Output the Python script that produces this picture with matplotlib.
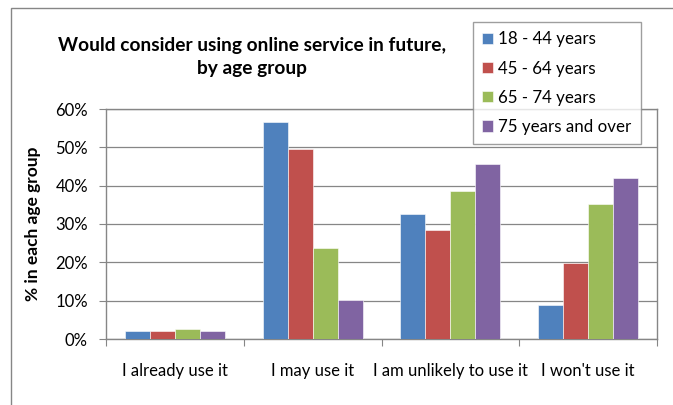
import matplotlib
matplotlib.use("Agg")
import matplotlib.pyplot as plt
from matplotlib.patches import Rectangle
from matplotlib.ticker import FuncFormatter
import numpy as np

plt.rcParams['font.family'] = ['Lato', 'DejaVu Sans']

categories = ["I already use it", "I may use it", "I am unlikely to use it", "I won't use it"]
series_names = ["18 - 44 years", "45 - 64 years", "65 - 74 years", "75 years and over"]
age_18_44 = [2.0, 56.6, 32.5, 8.8]
age_45_64 = [2.0, 49.6, 28.5, 19.8]
age_65_74 = [2.7, 23.8, 38.7, 35.1]
age_75_plus = [2.0, 10.3, 45.6, 41.9]
y_ticks = [0, 10, 20, 30, 40, 50, 60]

series = [age_18_44, age_45_64, age_65_74, age_75_plus]
colors = ["#4F81BD", "#C0504D", "#9BBB59", "#8064A2"]
grey = "#868686"

W, H = 673, 405
fig = plt.figure(figsize=(W / 100, H / 100), dpi=100)

# outer chart frame
fig.patches.append(Rectangle((11 / W, -0.1), 1.2, (H - 8) / H + 0.1,
                             transform=fig.transFigure, fill=False,
                             edgecolor=grey, linewidth=1.0, zorder=0))

ax = fig.add_axes([106 / W, (H - 339) / H, 551 / W, 230 / H])

x = np.arange(len(categories))
bw = 0.1815
for i, (vals, name, c) in enumerate(zip(series, series_names, colors)):
    ax.bar(x + (i - 1.5) * bw, vals, width=bw, color=c, label=name,
           edgecolor="white", linewidth=0.4, zorder=3)

ax.set_xlim(-0.5, len(categories) - 0.5)
ax.set_ylim(0, 60)
ax.set_yticks(y_ticks)
ax.yaxis.set_major_formatter(FuncFormatter(lambda v, p: f"{int(v)}%"))
ax.grid(axis="y", color=grey, linewidth=0.9, zorder=0)
ax.set_axisbelow(True)

# category boundary ticks, labels centred under each group
ax.set_xticks(np.arange(-0.5, len(categories)), labels=[""] * (len(categories) + 1))
ax.set_xticks(x, labels=categories, minor=True)
ax.tick_params(axis="x", which="major", length=5, color=grey, direction="out")
ax.tick_params(axis="x", which="minor", length=0, pad=17, labelsize=12)
ax.tick_params(axis="y", length=5, color=grey, direction="out", pad=8, labelsize=12)

for s in ax.spines.values():
    s.set_color(grey)
    s.set_linewidth(1.0)

ax.set_ylabel("% in each age group", fontsize=12.5, fontweight="bold", labelpad=10)

fig.text(252 / W, 1 - 57 / H, "Would consider using online service in future,\nby age group",
         ha="center", va="center", fontsize=13.8, fontweight="bold", linespacing=1.45)

leg = fig.legend(loc="upper left", bbox_to_anchor=(473 / W, 1 - 22 / H),
                 frameon=True, fancybox=False, edgecolor=grey, fontsize=12.2,
                 handlelength=0.65, handleheight=0.65, handletextpad=0.3,
                 labelspacing=0.78, borderpad=0.55, borderaxespad=0)
leg.get_frame().set_linewidth(1.0)

fig.savefig("out.png", dpi=100, facecolor="white")
